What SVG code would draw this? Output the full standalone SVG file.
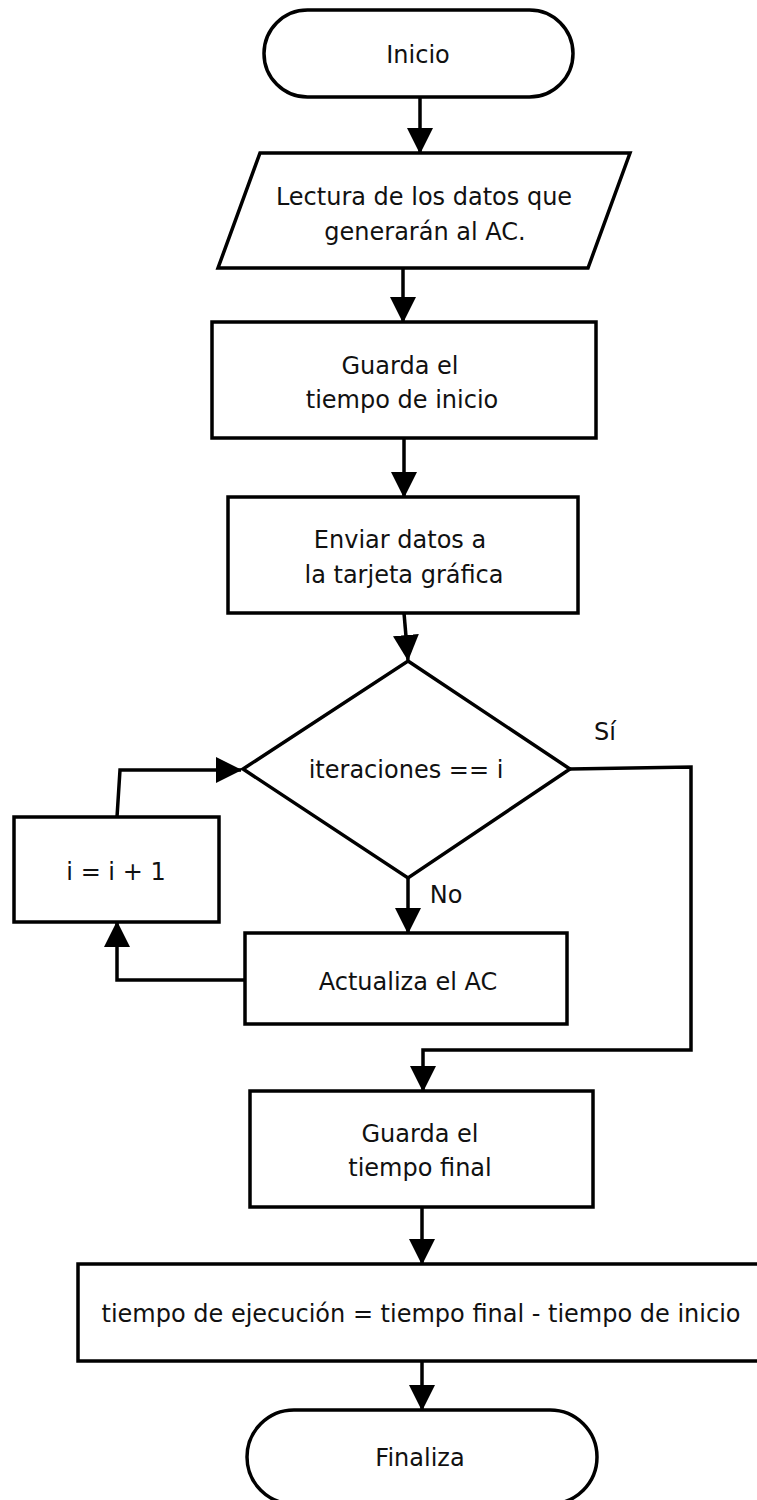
<svg xmlns="http://www.w3.org/2000/svg" width="757" height="1500" viewBox="0 0 757 1500">
<style>
.s{fill:#fff;stroke:#000;stroke-width:3.5}
.c{fill:none;stroke:#000;stroke-width:3.5}
text{font-family:"DejaVu Sans",Verdana,sans-serif;font-size:24px;fill:#111;text-anchor:middle}
</style>
<defs>
<marker id="ah" markerUnits="userSpaceOnUse" markerWidth="26" markerHeight="26" refX="25" refY="13" orient="auto" viewBox="0 0 26 26">
<path d="M0,0 L26,13 L0,26 Z" fill="#000"/>
</marker>
</defs>
<rect width="757" height="1500" fill="#fff"/>
<g id="connectors">
<path class="c" d="M420,97 L420,153" marker-end="url(#ah)"/>
<path class="c" d="M403,268 L403,322" marker-end="url(#ah)"/>
<path class="c" d="M404,438 L404,497" marker-end="url(#ah)"/>
<path class="c" d="M404,613 L408,660" marker-end="url(#ah)"/>
<path class="c" d="M408,878 L408,933" marker-end="url(#ah)"/>
<path class="c" d="M245,980 L117,980 L117,922" marker-end="url(#ah)"/>
<path class="c" d="M117,817 L120,770 L241,770" marker-end="url(#ah)"/>
<path class="c" d="M570,769 L691,767 L691,1050 L423,1050 L423,1091" marker-end="url(#ah)"/>
<path class="c" d="M422,1207 L422,1264" marker-end="url(#ah)"/>
<path class="c" d="M422,1361 L422,1410" marker-end="url(#ah)"/>
<text x="605" y="740">Sí</text>
<text x="446" y="903">No</text>
</g>
<g id="inicio">
<rect class="s" x="264" y="10" width="309" height="87" rx="43.5" ry="43.5"/>
<text x="418" y="63">Inicio</text>
</g>
<g id="lectura">
<polygon class="s" points="260,153 630,153 588,268 218,268"/>
<text x="424" y="205">Lectura de los datos que</text>
<text x="425" y="240">generarán al AC.</text>
</g>
<g id="guarda-inicio">
<rect class="s" x="212" y="322" width="384" height="116"/>
<text x="400" y="374">Guarda el</text>
<text x="402" y="408">tiempo de inicio</text>
</g>
<g id="enviar">
<rect class="s" x="228" y="497" width="350" height="116"/>
<text x="400" y="548">Enviar datos a</text>
<text x="404" y="583">la tarjeta gráfica</text>
</g>
<g id="decision">
<polygon class="s" points="408,661 570,769 408,878 243,769"/>
<text x="406" y="778">iteraciones == i</text>
</g>
<g id="incremento">
<rect class="s" x="14" y="817" width="205" height="105"/>
<text x="116" y="880">i = i + 1</text>
</g>
<g id="actualiza">
<rect class="s" x="245" y="933" width="322" height="91"/>
<text x="408" y="990">Actualiza el AC</text>
</g>
<g id="guarda-final">
<rect class="s" x="250" y="1091" width="343" height="116"/>
<text x="420" y="1142">Guarda el</text>
<text x="420" y="1176">tiempo final</text>
</g>
<g id="ejecucion">
<rect class="s" x="78" y="1264" width="700" height="97"/>
<text x="421" y="1322">tiempo de ejecución = tiempo final - tiempo de inicio</text>
</g>
<g id="finaliza">
<rect class="s" x="247" y="1410" width="350" height="94" rx="47" ry="47"/>
<text x="420" y="1466">Finaliza</text>
</g>
</svg>
